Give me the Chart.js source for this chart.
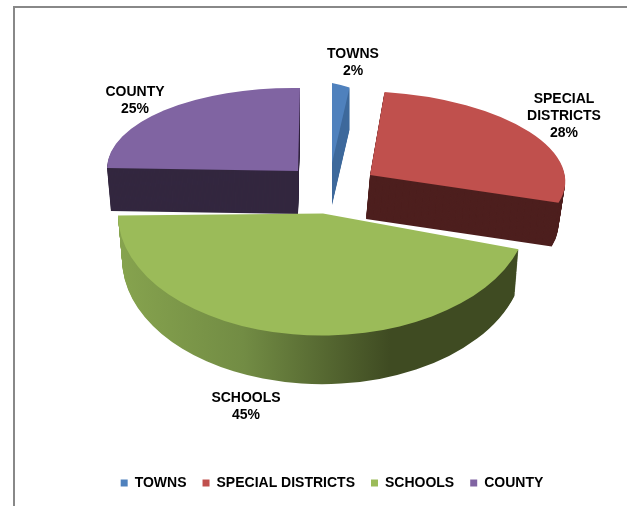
<!DOCTYPE html>
<html>
<head>
<meta charset="utf-8">
<title>Revenue shares</title>
<script src="https://cdn.jsdelivr.net/npm/chart.js@4"></script>
<style>
    html, body { margin: 0; padding: 0; background: #fff; overflow: hidden; }
    #wrap { position: relative; width: 627px; height: 506px; }
    #frame { position: absolute; left: 13px; top: 6px; right: 0; bottom: 0;
             border-top: 2px solid #888; border-left: 2px solid #888; }
    canvas { position: absolute; left: 0; top: 0; }
</style>
</head>
<body>
<div id="wrap">
    <div id="frame"></div>
    <canvas id="pie" width="627" height="506"></canvas>
</div>
<script>
const categories = ['TOWNS', 'SPECIAL DISTRICTS', 'SCHOOLS', 'COUNTY'];
const shares = [2, 28, 45, 25];
const labelLines = [['TOWNS'], ['SPECIAL', 'DISTRICTS'], ['SCHOOLS'], ['COUNTY']];

const topColors = ['#4F81BD', '#C0504D', '#9BBB59', '#8064A2'];
const sideColors = ['#3F6A9C', '#4D1F1E', null, '#33273F'];

// Each slice is tilted on its own: apex, image of the pie's x axis and "up" axis,
// extrusion vector, and how the lower face scales along those two axes.
const sliceViews = [
    { apex: [332, 163], u: [140, 30], w: [0, -80], depth: [0, 42], scaleU: 1, scaleW: 1 },
    { apex: [370, 175], u: [195, 2], w: [-10, -84], depth: [-4, 44], scaleU: 0.985, scaleW: 0.985 },
    { apex: [323, 213.5], u: [205, -2], w: [-2, -122], depth: [0, 45], scaleU: 0.98, scaleW: 1.03 },
    { apex: [298, 171], u: [191, 3], w: [2, -83], depth: [0, 43], scaleU: 0.98, scaleW: 0.98 }
];
const drawOrder = [3, 0, 1, 2];

// Label anchors, one per category, first line centre
const labelAnchors = [[353, 54], [564, 99], [246, 398], [135, 92]];
const labelLineHeight = 17;
const labelFont = 'bold 14px "Liberation Sans", Arial, sans-serif';

function applyView(ctx, arc, view, t) {
    const R = arc.outerRadius;
    const su = 1 + (view.scaleU - 1) * t;
    const sw = 1 + (view.scaleW - 1) * t;
    ctx.transform(
        view.u[0] * su / R, view.u[1] * su / R,
        -view.w[0] * sw / R, -view.w[1] * sw / R,
        view.apex[0] + view.depth[0] * t, view.apex[1] + view.depth[1] * t
    );
    ctx.translate(-arc.x, -arc.y);
}

function sideFill(ctx, arc, i) {
    if (sideColors[i]) return sideColors[i];
    // the big slice has a shaded rim, light on the left and dark past the middle
    const g = ctx.createLinearGradient(arc.x - arc.outerRadius, 0, arc.x + arc.outerRadius, 0);
    g.addColorStop(0, '#86A34E');
    g.addColorStop(0.3, '#728C44');
    g.addColorStop(0.66, '#3F4B22');
    g.addColorStop(1, '#3F4B22');
    return g;
}

const tiltedSlices = {
    id: 'tiltedSlices',
    beforeDatasetsDraw(chart) {
        const ctx = chart.ctx;
        const arcs = chart.getDatasetMeta(0).data;
        drawOrder.forEach(i => {
            const arc = arcs[i];
            const view = sliceViews[i];
            const steps = Math.ceil(Math.abs(view.depth[1]));
            // extrude the slice downwards, then lay the top face on it
            for (let n = steps; n > 0; n--) {
                ctx.save();
                applyView(ctx, arc, view, n / steps);
                ctx.fillStyle = sideFill(ctx, arc, i);
                ctx.beginPath();
                ctx.moveTo(arc.x, arc.y);
                ctx.arc(arc.x, arc.y, arc.outerRadius, arc.startAngle, arc.endAngle);
                ctx.closePath();
                ctx.fill();
                ctx.restore();
            }
            ctx.save();
            applyView(ctx, arc, view, 0);
            arc.draw(ctx);
            ctx.restore();
        });
        return false;
    },
    afterDraw(chart) {
        const ctx = chart.ctx;
        ctx.save();
        ctx.font = labelFont;
        ctx.fillStyle = '#000';
        ctx.textAlign = 'center';
        ctx.textBaseline = 'middle';
        categories.forEach((name, i) => {
            const lines = labelLines[i].concat(shares[i] + '%');
            lines.forEach((line, k) => {
                ctx.fillText(line, labelAnchors[i][0], labelAnchors[i][1] + k * labelLineHeight);
            });
        });
        ctx.restore();
    }
};

new Chart(document.getElementById('pie').getContext('2d'), {
    type: 'pie',
    data: {
        labels: categories,
        datasets: [{
            data: shares,
            backgroundColor: topColors,
            borderWidth: 0
        }]
    },
    options: {
        responsive: false,
        animation: false,
        layout: { padding: { left: 37, bottom: 6 } },
        plugins: {
            tooltip: { enabled: false },
            legend: {
                position: 'bottom',
                labels: {
                    boxWidth: 7,
                    boxHeight: 7,
                    padding: 16,
                    color: '#000',
                    font: { family: '"Liberation Sans", Arial, sans-serif', size: 14, weight: 'bold' }
                }
            }
        }
    },
    plugins: [tiltedSlices]
});
</script>
</body>
</html>
